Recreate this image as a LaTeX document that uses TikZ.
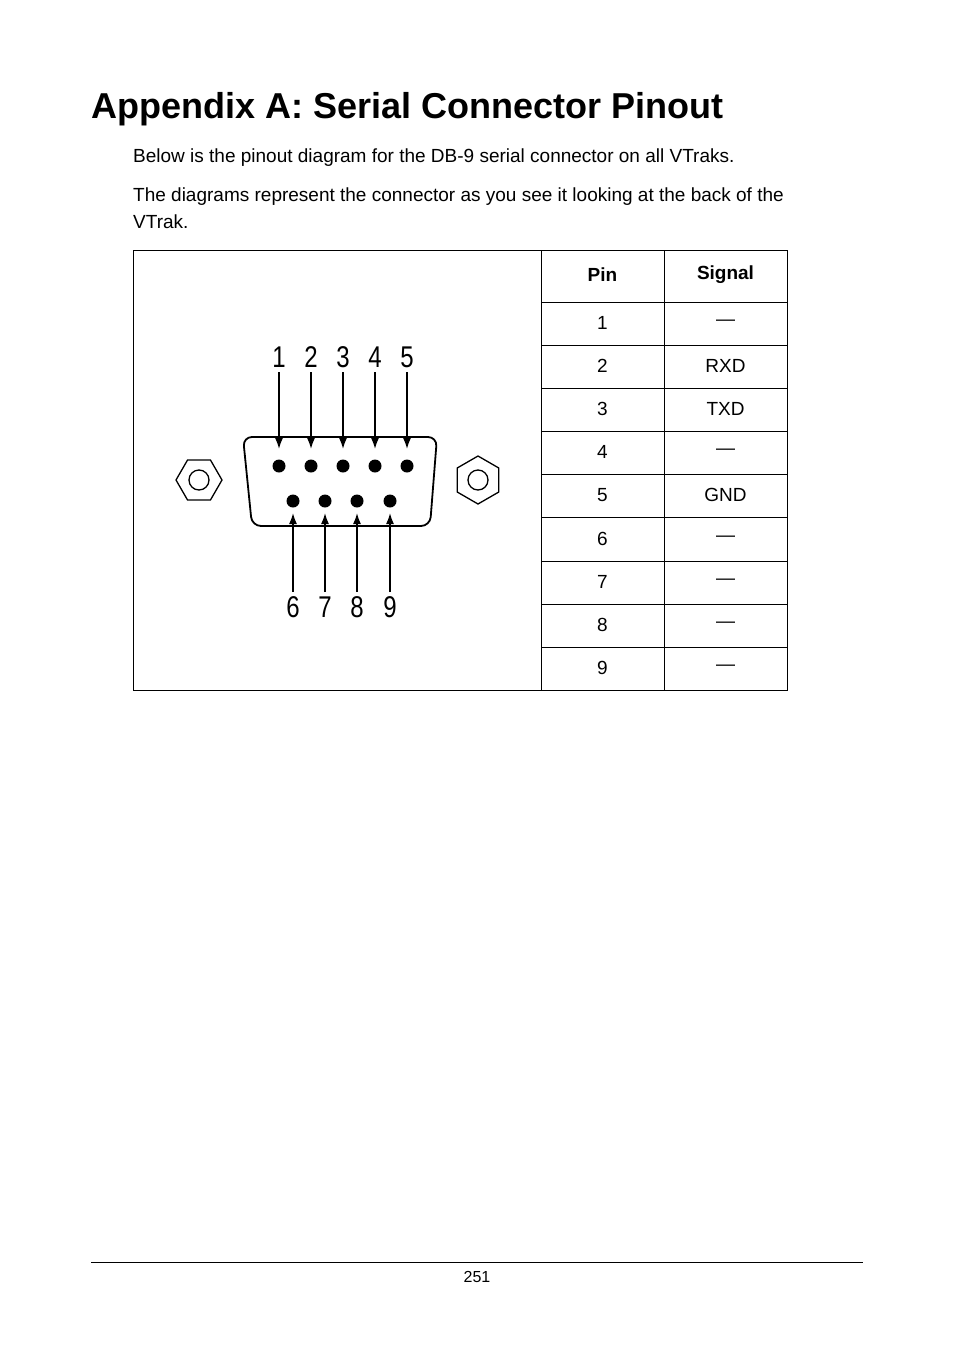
\documentclass[tikz,border=0pt]{standalone}
\usepackage{fontspec}
\setmainfont{Liberation Sans}
\usetikzlibrary{arrows.meta}
\begin{document}
\begin{tikzpicture}[x=1pt,y=-1pt,
  body/.style={anchor=west,inner sep=0,font=\fontsize{19}{23}\selectfont},
  cell/.style={inner sep=0,font=\fontsize{19}{23}\selectfont},
  pin/.style={circle,fill=black,inner sep=0,minimum size=13},
  lbl/.style={inner sep=0,font=\fontsize{30}{30}\selectfont,xscale=0.8},
  arr/.style={-{Latex[length=11,width=8]},line width=1.6}]
\useasboundingbox (0,0) rectangle (954,1352);
\node[anchor=west,inner sep=0,font=\bfseries\fontsize{36}{40}\selectfont] (title) at (91,109) {Appendix A: Serial Connector Pinout};
\node[body] (p1) at (133,158) {Below is the pinout diagram for the DB-9 serial connector on all VTraks.};
\node[body] (p2) at (133,197) {The diagrams represent the connector as you see it looking at the back of the};
\node[body] (p3) at (133,222) {VTrak.};
% table
\draw[line width=0.8] (133,250) rectangle (787,690);
\draw[line width=0.8] (541,250) -- (541,690) (664,250) -- (664,690);
\foreach \y in {302,345,388,431,474,517,561,604,647} \draw[line width=0.8] (541,\y) -- (787,\y);
\node[cell,font=\bfseries\fontsize{19}{23}\selectfont] (hp) at (602.5,275) {Pin};
\node[cell,font=\bfseries\fontsize{19}{23}\selectfont] (hs) at (725.5,275) {Signal};
\foreach \n/\s/\y in {1/---/323,2/RXD/366,3/TXD/409,4/---/452,5/GND/495,6/---/539,7/---/582,8/---/625,9/---/668}{
  \node[cell] (pn\n) at (602.5,\y) {\n};
  \node[cell] (sg\n) at (725.5,\y) {\s};
}
% connector
\draw[line width=1.8,rounded corners=9] (243,437) -- (437,437) -- (430,526) -- (252,526) -- cycle;
\foreach \i/\x in {1/279,2/311,3/343,4/375,5/407}{
  \node[pin] (t\i) at (\x,466) {};
  \node[lbl] (tl\i) at (\x,357) {\i};
  \coordinate (ts\i) at (\x,372);
  \draw[arr] (ts\i) -- (\x,449);
}
\foreach \i/\x in {6/293,7/325,8/357,9/390}{
  \node[pin] (b\i) at (\x,501) {};
  \node[lbl] (bl\i) at (\x,607) {\i};
  \coordinate (bs\i) at (\x,592);
  \draw[arr] (bs\i) -- (\x,513);
}
% hex nuts
\draw[line width=1.3] (199,480) ++(0:23) -- ++(120:23) -- ++(180:23) -- ++(240:23) -- ++(300:23) -- ++(0:23) -- cycle;
\draw[line width=1.3] (199,480) circle (10);
\draw[line width=1.3] (478,480) ++(90:24) -- ++(210:24) -- ++(270:24) -- ++(330:24) -- ++(30:24) -- ++(90:24) -- cycle;
\draw[line width=1.3] (478,480) circle (10);
% footer
\draw[line width=0.8] (91,1262) -- (863,1262);
\node[inner sep=0,font=\fontsize{16}{18}\selectfont] (pg) at (477,1277) {251};
\end{tikzpicture}
\end{document}
